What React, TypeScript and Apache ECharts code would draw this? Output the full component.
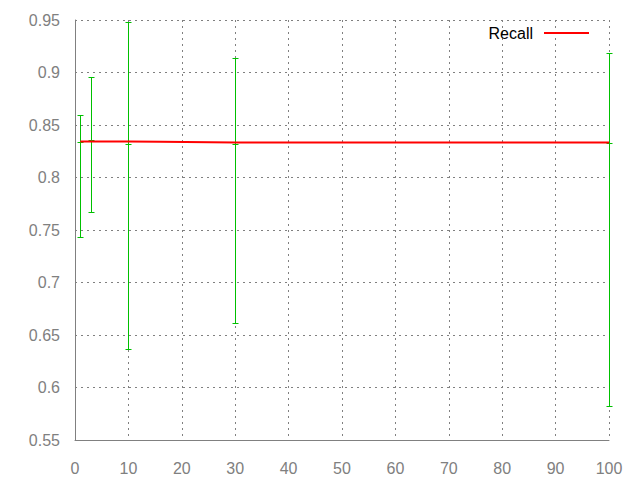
import React, { useEffect, useRef } from "react";
import * as echarts from "echarts";

const lineX = [1, 3, 10, 16, 30, 100];
const lineY = [0.8342, 0.8342, 0.8342, 0.8341, 0.8333, 0.8333];

const errX = [1, 3, 10, 30, 100];
const errMean = [0.8335, 0.8354, 0.832, 0.8322, 0.8326];
const errLow = [0.7433, 0.7669, 0.6367, 0.6611, 0.5827];
const errHigh = [0.8595, 0.8954, 0.948, 0.9135, 0.9183];

const xTicks = { min: 0, max: 100, interval: 10 };
const yTicks = { min: 0.55, max: 0.95, interval: 0.05 };

const FONT = "Liberation Sans";
const GRAY = "#808080";
const GREEN = "#00c000";

export default function App() {
  const ref = useRef<HTMLDivElement>(null);
  useEffect(() => {
    if (!ref.current) return;
    const chart = echarts.init(ref.current, undefined, { renderer: "svg" });
    const errData = errX.map((x, i) => [x, errMean[i], errLow[i], errHigh[i]]);
    chart.setOption({
      animation: false,
      backgroundColor: "#ffffff",
      grid: { left: 75, right: 31, top: 20, bottom: 40 },
      legend: {
        data: [{ name: "Recall" }],
        right: 46,
        top: 20,
        align: "right",
        icon: "rect",
        itemWidth: 45,
        itemHeight: 2,
        textStyle: {
          fontFamily: FONT,
          fontSize: 16,
          color: "#000000",
          padding: [0, 6, 0, 0],
        },
      },
      xAxis: {
        type: "value",
        min: xTicks.min,
        max: xTicks.max,
        interval: xTicks.interval,
        axisLine: { show: true, lineStyle: { color: GRAY, width: 1 } },
        axisTick: { show: false },
        axisLabel: { color: GRAY, fontFamily: FONT, fontSize: 16, margin: 20 },
        splitLine: {
          show: true,
          lineStyle: { color: GRAY, type: [2, 4], width: 1 },
        },
      },
      yAxis: {
        type: "value",
        min: yTicks.min,
        max: yTicks.max,
        interval: yTicks.interval,
        axisLine: { show: true, lineStyle: { color: GRAY, width: 1 } },
        axisTick: { show: false },
        axisLabel: {
          color: GRAY,
          fontFamily: FONT,
          fontSize: 16,
          margin: 15,
          formatter: (v: number) => String(+v.toFixed(2)),
        },
        splitLine: {
          show: true,
          lineStyle: { color: GRAY, type: [2, 4], width: 1 },
        },
      },
      series: [
        {
          name: "errors",
          type: "custom",
          data: errData,
          z: 2,
          renderItem: (params: any, api: any) => {
            const x = api.value(0);
            const m = api.coord([x, api.value(1)]);
            const lo = api.coord([x, api.value(2)]);
            const hi = api.coord([x, api.value(3)]);
            const px = Math.round(m[0]) + 0.5;
            const w = 3;
            const style = { stroke: GREEN, lineWidth: 1 };
            const seg = (x1: number, y1: number, x2: number, y2: number) => ({
              type: "line",
              shape: { x1, y1, x2, y2 },
              style,
            });
            const ry = (y: number) => Math.round(y) + 0.5;
            return {
              type: "group",
              children: [
                seg(px, ry(hi[1]), px, ry(lo[1])),
                seg(px - w, ry(hi[1]), px + w, ry(hi[1])),
                seg(px - w, ry(lo[1]), px + w, ry(lo[1])),
                seg(px - w, ry(m[1]), px + w, ry(m[1])),
              ],
            };
          },
        },
        {
          name: "Recall",
          type: "line",
          data: lineX.map((x, i) => [x, lineY[i]]),
          showSymbol: false,
          symbol: "none",
          z: 3,
          color: "#ff0000",
          lineStyle: { color: "#ff0000", width: 2 },
        },
      ],
    });
    return () => chart.dispose();
  }, []);
  return (
    <div
      ref={ref}
      style={{ position: "absolute", left: 0, top: 0, width: 640, height: 480, background: "#fff" }}
    />
  );
}
